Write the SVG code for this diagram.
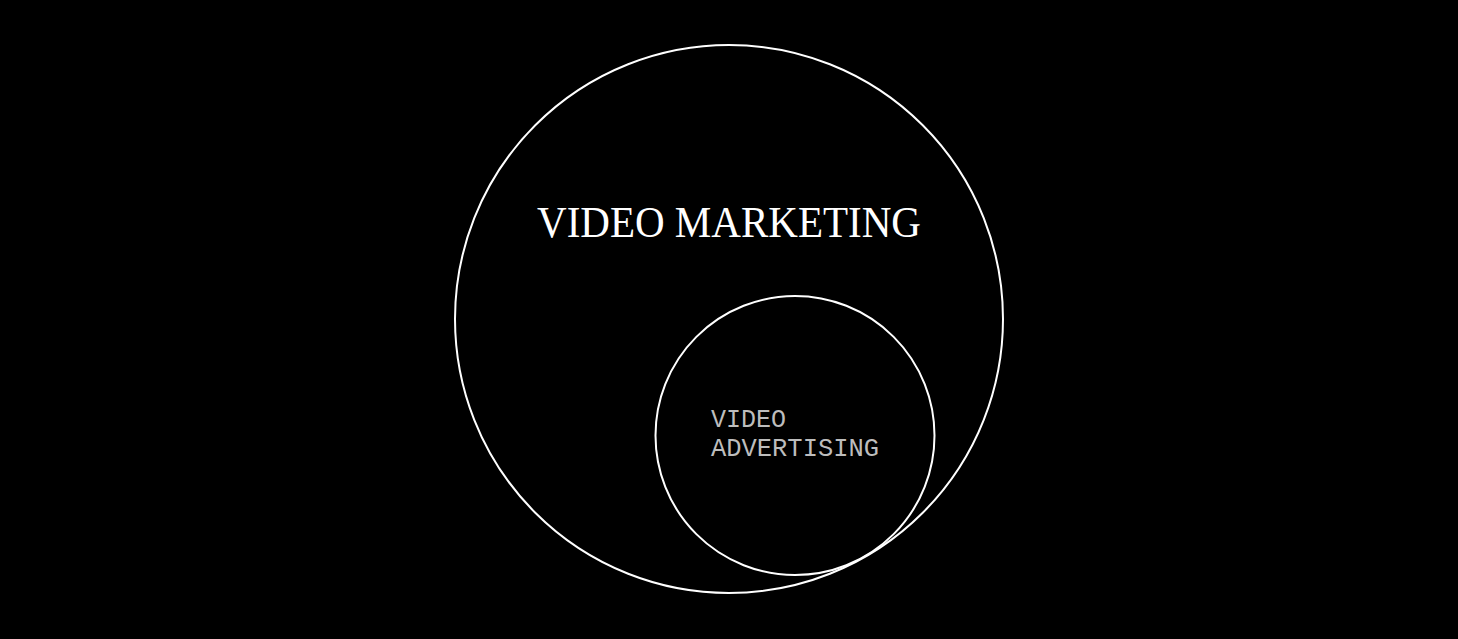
<svg xmlns="http://www.w3.org/2000/svg" width="1458" height="639" viewBox="0 0 1458 639">
<style>
.ring{fill:none;stroke:#fff;stroke-width:2}
.t1{font-family:"Liberation Serif",serif;font-size:44px;fill:#fff}
.t2{font-family:"Liberation Mono",monospace;font-size:25px;fill:#bdbdbd}
</style>
<rect width="1458" height="639" fill="#000"/>
<g id="video-marketing">
<circle class="ring" cx="729" cy="319" r="274"/>
<text class="t1" x="537" y="237" textLength="384" lengthAdjust="spacingAndGlyphs">VIDEO MARKETING</text>
</g>
<g id="video-advertising">
<circle class="ring" cx="795" cy="435.5" r="139.5"/>
<text class="t2" x="711" y="427">VIDEO</text>
<text class="t2" x="711" y="456" textLength="168" lengthAdjust="spacingAndGlyphs">ADVERTISING</text>
</g>
<g id="connectors"></g>
</svg>
